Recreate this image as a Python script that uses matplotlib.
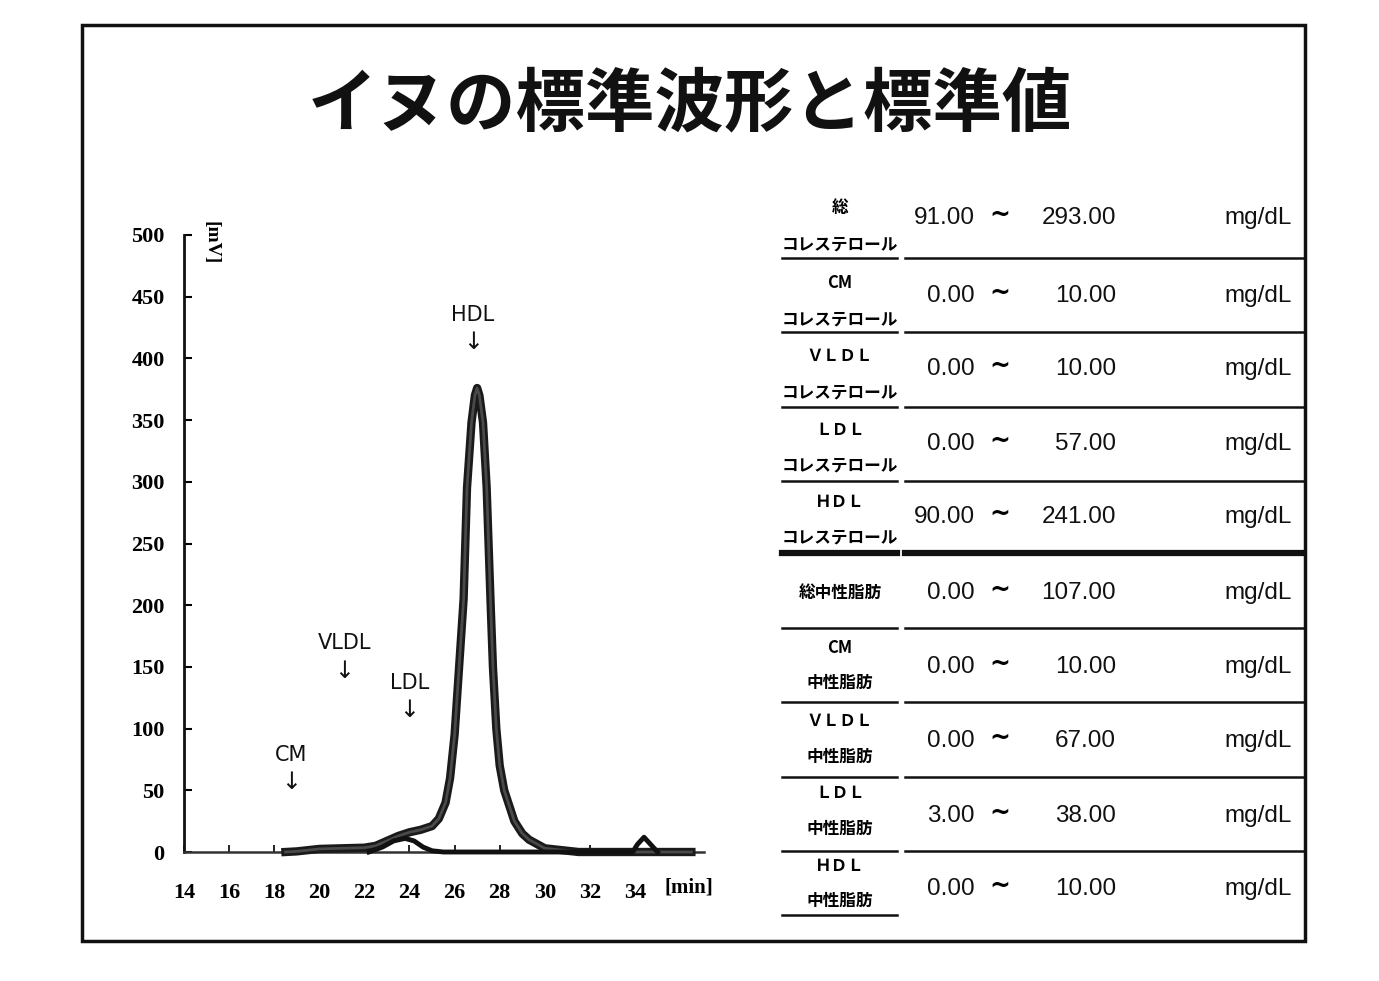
import matplotlib.pyplot as plt
from matplotlib import font_manager
from matplotlib.lines import Line2D
from matplotlib.patches import Rectangle


W, H = 1379, 981

TITLE = "イヌの標準波形と標準値"

# chromatogram (retention time [min], signal [mV])
MAIN_T = [18.5, 19, 19.5, 20, 21, 22, 22.5, 23, 23.5, 24, 24.5, 25, 25.3,
          25.6, 25.8, 26.0, 26.2, 26.4, 26.55, 26.75, 26.9, 27.0, 27.1, 27.26,
          27.42, 27.6, 27.7, 27.85, 28.0, 28.2, 28.65, 29.0, 29.3, 30, 31, 31.5,
          34, 36.5]
MAIN_MV = [0, 0.5, 1.5, 2.5, 3, 3.5, 5, 9, 13, 16, 18, 21, 27,
           40, 60, 95, 150, 205, 295, 348, 370, 376, 370, 348,
           296, 200, 150, 100, 70, 50, 25, 15, 10, 3, 1, 0,
           0, 0]
SUB_T = [22.2, 22.8, 23.3, 23.8, 24.2, 24.6, 25.0, 25.5, 28.0, 33.9, 34.1, 34.4, 34.7, 35.0]
SUB_MV = [0, 4, 9, 11, 9, 4, 1, 0, 0, 0, 6, 12, 6, 0]

X_TICKS = [14, 16, 18, 20, 22, 24, 26, 28, 30, 32, 34]
Y_TICKS = [0, 50, 100, 150, 200, 250, 300, 350, 400, 450, 500]

PEAK_NAMES = ["CM", "VLDL", "LDL", "HDL"]
PEAK_T = [18.75, 21.1, 24.0, 26.8]
PEAK_LABEL_MV = [79, 169, 137, 435]

# reference values table
ROW_TOP = ["総", "CM", "ＶＬＤＬ", "ＬＤＬ", "ＨＤＬ", "", "CM", "ＶＬＤＬ", "ＬＤＬ", "ＨＤＬ"]
ROW_BOTTOM = ["コレステロール"] * 5 + ["総中性脂肪"] + ["中性脂肪"] * 4
LOW = ["91.00", "0.00", "0.00", "0.00", "90.00", "0.00", "0.00", "0.00", "3.00", "0.00"]
HIGH = ["293.00", "10.00", "10.00", "57.00", "241.00", "107.00", "10.00", "67.00", "38.00", "10.00"]
UNIT = "mg/dL"

names = {f.name for f in font_manager.fontManager.ttflist}
NARROW = next((n for n in ["Liberation Sans Narrow", "DejaVu Sans Condensed"] if n in names),
              "Liberation Sans")
NUM_SIZE = 21 if NARROW != "Liberation Sans" else 17.5
JP = ["Noto Sans CJK JP", "DejaVu Sans"]
SERIF = "Liberation Serif"


def fx(x):
    return x / W


def fy(y):
    return 1 - y / H


def main():
    fig = plt.figure(figsize=(W / 100, H / 100), dpi=100)
    fig.patch.set_facecolor("white")

    # outer frame
    fig.add_artist(Rectangle((fx(82), fy(941)), fx(1305) - fx(82), fy(25) - fy(941),
                             transform=fig.transFigure, fill=False, lw=2.5,
                             edgecolor="#111"))

    fig.text(fx(690), fy(105), TITLE, family=JP, fontsize=50, weight="bold",
             ha="center", va="center", color="#111")

    # chromatogram
    ax = fig.add_axes([fx(184), fy(852), fx(704) - fx(184), fy(235) - fy(852)])
    ax.set_xlim(14, 37.06)
    ax.set_ylim(0, 500)
    for side in ["top", "right"]:
        ax.spines[side].set_visible(False)
    ax.spines["left"].set_linewidth(2)
    ax.spines["bottom"].set_linewidth(1.8)
    ax.spines["bottom"].set_linestyle((0, (2, 1)))
    ax.spines["left"].set_color("#111")
    ax.spines["bottom"].set_color("#333")

    ax.set_xticks(X_TICKS)
    ax.set_yticks(Y_TICKS)
    ax.tick_params(axis="y", direction="in", length=6, width=1.5, pad=14,
                   labelsize=16)
    ax.tick_params(axis="x", direction="in", length=5, width=1.2, pad=22,
                   labelsize=16)
    for lbl in ax.get_xticklabels() + ax.get_yticklabels():
        lbl.set_family(SERIF)
        lbl.set_weight("bold")

    ax.plot(MAIN_T, MAIN_MV, color="#1a1a1a", lw=6, solid_joinstyle="round",
            clip_on=False, zorder=3)
    ax.plot(MAIN_T, MAIN_MV, color="#4a4a4a", lw=2, clip_on=False, zorder=4)
    ax.plot(SUB_T, SUB_MV, color="#111", lw=3.5, clip_on=False, zorder=5)

    for name, t, mv in zip(PEAK_NAMES, PEAK_T, PEAK_LABEL_MV):
        ax.text(t, mv, name, ha="center", va="center", fontsize=15,
                family="DejaVu Sans", color="#111")
        ax.text(t, mv - 22, "↓", ha="center", va="center", fontsize=17,
                family="DejaVu Sans", color="#111")

    ax.text(36.4, -29, "[min]", ha="center", va="center", fontsize=15,
            family=SERIF, weight="bold", clip_on=False)
    ax.text(15.2, 494, "[mV]", ha="center", va="center", fontsize=14,
            family=SERIF, weight="bold", rotation=270, clip_on=False)

    # table
    line_y = [258, 332, 407, 481, 553, 628, 702, 777, 851, 915]
    value_y = [218, 296, 369, 444, 517, 593, 667, 741, 816, 889]
    top_y = [208, 283, 356, 430, 502, None, 648, 721, 793, 866]
    bottom_y = [245, 320, 393, 466, 538, 593, 683, 757, 829, 901]

    for i in range(len(LOW)):
        if ROW_TOP[i]:
            fig.text(fx(840), fy(top_y[i]), ROW_TOP[i], family=JP, fontsize=12,
                     weight="bold", ha="center", va="center")
        fig.text(fx(840), fy(bottom_y[i]), ROW_BOTTOM[i], family=JP, fontsize=12,
                 weight="bold", ha="center", va="center")
        fig.text(fx(975), fy(value_y[i]), LOW[i], family=NARROW, fontsize=NUM_SIZE,
                 ha="right", va="center", color="#111")
        fig.text(fx(1000), fy(value_y[i] - 3), "~", family="DejaVu Sans",
                 fontsize=18, weight="bold", ha="center", va="center")
        fig.text(fx(1116), fy(value_y[i]), HIGH[i], family=NARROW, fontsize=NUM_SIZE,
                 ha="right", va="center", color="#111")
        fig.text(fx(1292), fy(value_y[i]), UNIT, family=NARROW, fontsize=NUM_SIZE,
                 ha="right", va="center", color="#111")

        lw = 4.5 if i == 4 else 1.8
        fig.add_artist(Line2D([fx(782), fx(897)], [fy(line_y[i])] * 2,
                              transform=fig.transFigure, lw=lw, color="#111"))
        if i < len(LOW) - 1:
            fig.add_artist(Line2D([fx(905), fx(1303)], [fy(line_y[i])] * 2,
                                  transform=fig.transFigure, lw=lw, color="#111"))

    fig.savefig("out.png", dpi=100)
    plt.close(fig)


if __name__ == "__main__":
    main()
